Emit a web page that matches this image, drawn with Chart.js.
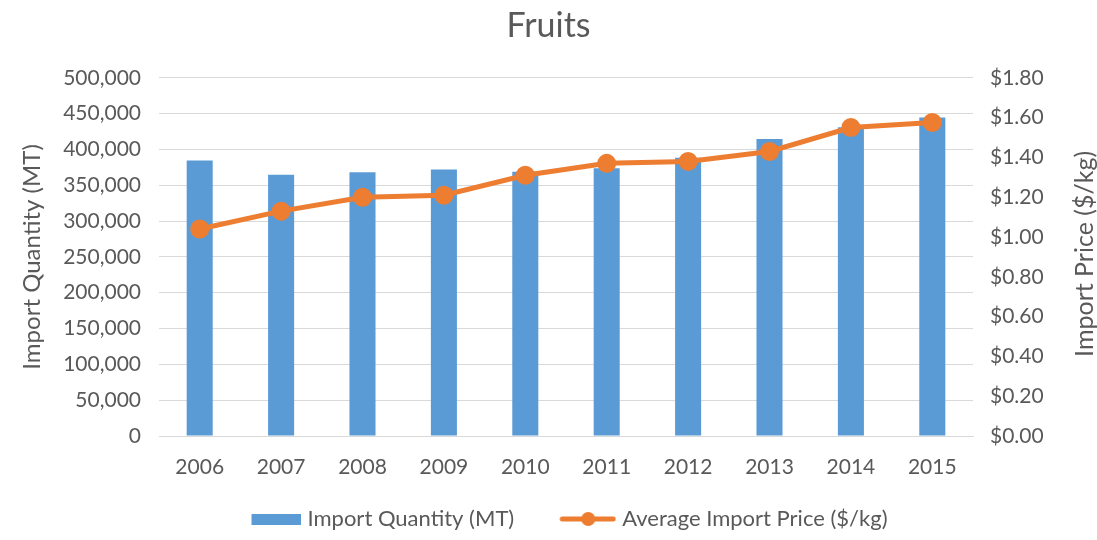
<!DOCTYPE html>
<html>
<head>
<meta charset="utf-8">
<script src="https://cdn.jsdelivr.net/npm/chart.js@4/dist/chart.umd.min.js"></script>
<style>
  html, body { margin: 0; padding: 0; background: #fff; }
  #wrap { width: 1097px; height: 540px; }
</style>
</head>
<body>
<div id="wrap"><canvas id="c"></canvas></div>
<script>
// data
const years = ['2006', '2007', '2008', '2009', '2010', '2011', '2012', '2013', '2014', '2015'];
const importQty = [384500, 364500, 368300, 371900, 368700, 373900, 388300, 414400, 431000, 444600];
const avgPrice = [1.04, 1.13, 1.20, 1.21, 1.31, 1.37, 1.38, 1.43, 1.55, 1.575];

const BLUE = '#5B9BD5', ORANGE = '#ED7D31', TXT = '#595959', GRID = '#D9D9D9';
const FONT = 'Lato, "Open Sans", sans-serif';
const SYM_W = 87;          // legend box width
const IMG_W = SYM_W + 10;  // symbol image spills a bit past the box, closer to the text

// legend symbols drawn on small canvases, pushed to the right edge
function barSymbol() {
    const c = document.createElement('canvas');
    c.width = IMG_W; c.height = 11;
    const g = c.getContext('2d');
    g.fillStyle = BLUE; g.fillRect(IMG_W - 50, 0, 50, 11);
    return c;
}
function lineSymbol() {
    const c = document.createElement('canvas');
    c.width = IMG_W; c.height = 16;
    const g = c.getContext('2d');
    g.strokeStyle = ORANGE; g.lineWidth = 5; g.lineCap = 'round';
    g.beginPath(); g.moveTo(IMG_W - 54, 8); g.lineTo(IMG_W - 3, 8); g.stroke();
    g.fillStyle = ORANGE;
    g.beginPath(); g.arc(IMG_W - 28, 8, 7, 0, Math.PI * 2); g.fill();
    return c;
}

// right axis title reads bottom-to-top like the left one
const rightTitle = {
    id: 'rightTitle',
    afterDraw(chart) {
        const { ctx, chartArea } = chart;
        ctx.save();
        ctx.translate(chart.width - 12, (chartArea.top + chartArea.bottom) / 2 - 3);
        ctx.rotate(-Math.PI / 2);
        ctx.fillStyle = TXT;
        ctx.font = '25px ' + FONT;
        ctx.textAlign = 'center';
        ctx.textBaseline = 'middle';
        ctx.fillText('Import Price ($/kg)', 0, 0);
        ctx.restore();
    }
};

new Chart(document.getElementById('c').getContext('2d'), {
    type: 'bar',
    data: {
        labels: years,
        datasets: [
            {
                type: 'line', label: 'Average Import Price ($/kg)', data: avgPrice,
                borderColor: ORANGE, backgroundColor: ORANGE, borderWidth: 5,
                pointRadius: 7, pointHoverRadius: 7, tension: 0, yAxisID: 'yR', order: 1
            },
            {
                type: 'bar', label: 'Import Quantity (MT)', data: importQty,
                backgroundColor: BLUE, barPercentage: 0.32, categoryPercentage: 1,
                yAxisID: 'yL', order: 2
            }
        ]
    },
    options: {
        responsive: true, maintainAspectRatio: false, animation: false,
        layout: { padding: { left: 0, right: 0, top: 0, bottom: 0 } },
        scales: {
            x: {
                grid: { display: false, drawTicks: false },
                border: { display: true, color: GRID, width: 1 },
                ticks: { color: TXT, font: { family: FONT, size: 21 }, padding: 19 },
                afterFit: (s) => { s.height = 62; }
            },
            yL: {
                type: 'linear', position: 'left', min: 0, max: 500000,
                grid: { color: GRID, lineWidth: 1, drawTicks: false },
                border: { display: false },
                ticks: {
                    stepSize: 50000, color: TXT, font: { family: FONT, size: 21 }, padding: 18,
                    callback: (v) => v.toLocaleString('en-US')
                },
                title: {
                    display: true, text: 'Import Quantity (MT)', color: TXT,
                    font: { family: FONT, size: 24 }, padding: { top: 18, bottom: 0 }
                },
                afterFit: (s) => { s.width = 159; }
            },
            yR: {
                type: 'linear', position: 'right', min: 0, max: 1.8,
                grid: { drawOnChartArea: false, drawTicks: false },
                border: { display: false },
                ticks: {
                    stepSize: 0.2, color: TXT, font: { family: FONT, size: 21 }, padding: 17,
                    callback: (v) => '$' + v.toFixed(2)
                },
                afterFit: (s) => { s.width = 124; }
            }
        },
        plugins: {
            title: {
                display: true, text: 'Fruits', color: TXT,
                font: { family: FONT, size: 34, weight: 'normal' },
                padding: { top: 6, bottom: 31 }
            },
            legend: {
                position: 'bottom',
                labels: {
                    color: TXT, font: { family: FONT, size: 22 }, usePointStyle: true,
                    pointStyleWidth: SYM_W, padding: 10,
                    generateLabels: () => [
                        { text: 'Import Quantity (MT)', pointStyle: barSymbol(), fontColor: TXT, datasetIndex: 1, lineWidth: 0, strokeStyle: 'transparent', fillStyle: BLUE },
                        { text: 'Average Import Price ($/kg)', pointStyle: lineSymbol(), fontColor: TXT, datasetIndex: 0, lineWidth: 0, strokeStyle: 'transparent', fillStyle: ORANGE }
                    ]
                }
            },
            tooltip: { enabled: false }
        }
    },
    plugins: [rightTitle]
});
</script>
</body>
</html>
